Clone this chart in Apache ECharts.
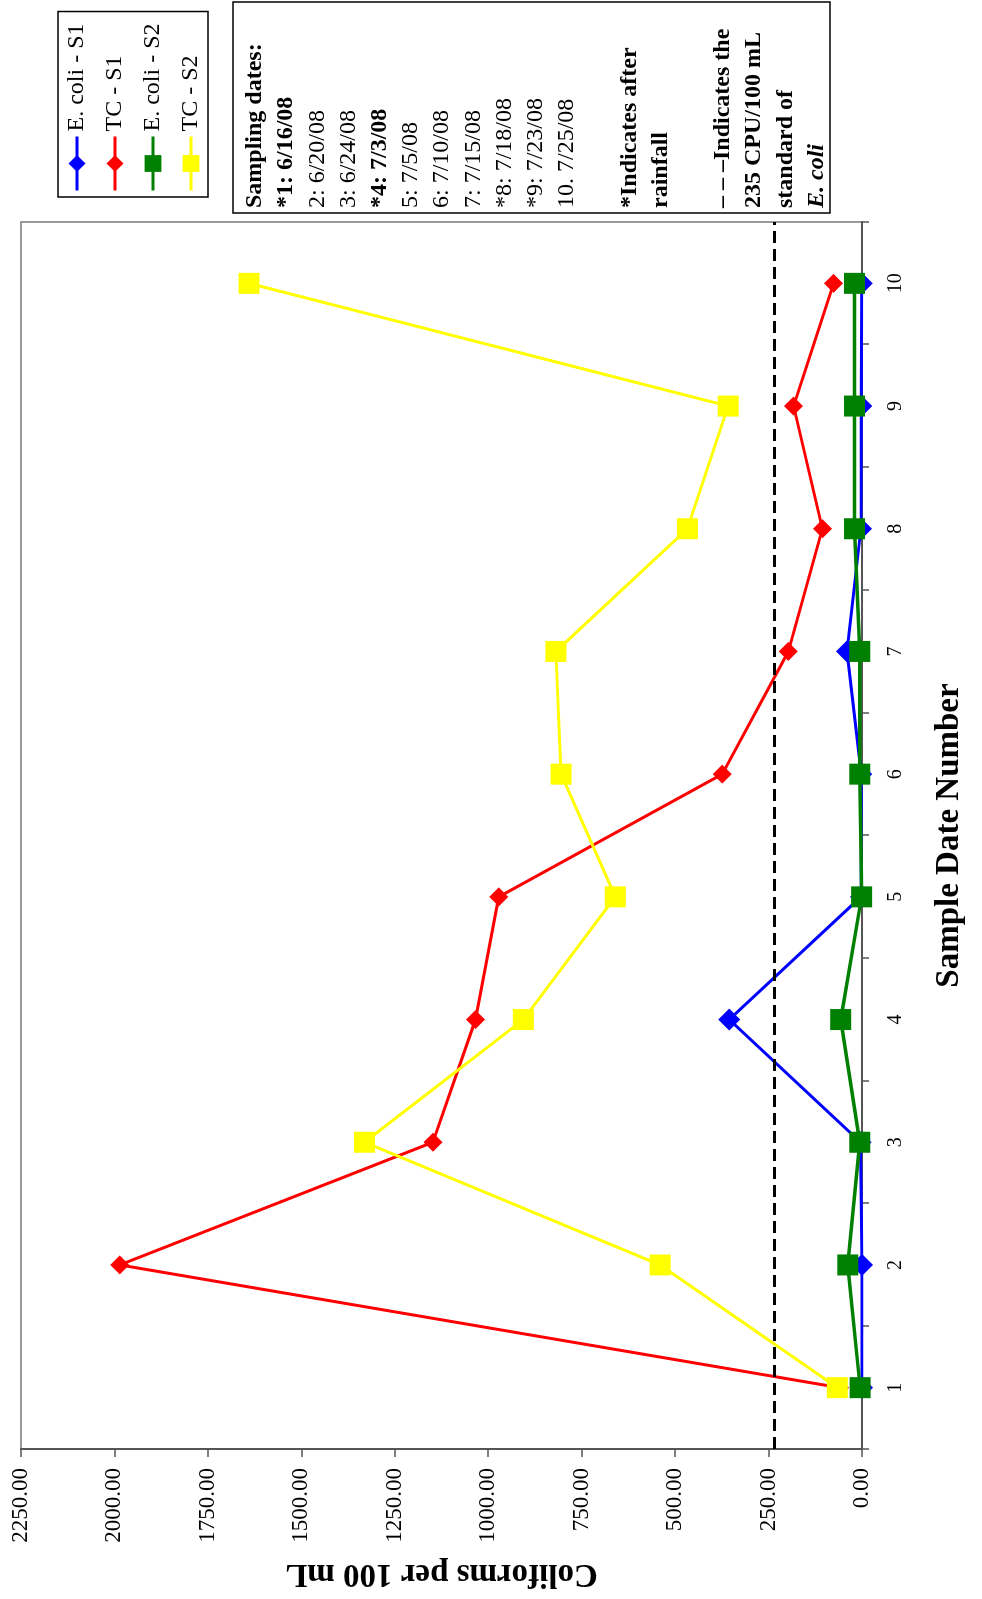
<!DOCTYPE html>
<html>
<head>
<meta charset="utf-8">
<script src="https://cdn.jsdelivr.net/npm/echarts@6/dist/echarts.min.js"></script>
<style>
  html, body { margin: 0; padding: 0; background: #fff; overflow: hidden; width: 982px; height: 1599px; }
  /* The chart is laid out landscape and turned a quarter-turn to stand on the page */
  #chart {
    position: absolute; left: 0; top: 0;
    width: 1599px; height: 982px;
    transform-origin: 0 0;
    transform: translate(0, 1599px) rotate(-90deg);
  }
</style>
</head>
<body>
<div id="chart"></div>
<script>
// Sample date numbers along the category axis
const categories = ['1', '2', '3', '4', '5', '6', '7', '8', '9', '10'];

// Coliforms per 100 mL at each sampling date
const ecoliS1 = [0, 0, 4, 355, 3, 2, 40, 3, 2, 1];
const tcS1    = [60, 1986, 1148, 1034, 972, 374, 197, 106, 183, 76];
const ecoliS2 = [5, 38, 6, 57, 1, 6, 6, 20, 20, 20];
const tcS2    = [66, 540, 1331, 906, 660, 805, 819, 467, 358, 1640];

// Value axis range and step
const valueMin = 0;
const valueMax = 2250;
const valueStep = 250;

// E. coli standard (CPU/100 mL)
const ecoliStandard = 235;

// Sampling-date key: [text, bold]
const dateLines = [
  ['*1: 6/16/08', true],
  ['2: 6/20/08', false],
  ['3: 6/24/08', false],
  ['*4: 7/3/08', true],
  ['5: 7/5/08', false],
  ['6: 7/10/08', false],
  ['7: 7/15/08', false],
  ['*8: 7/18/08', false],
  ['*9: 7/23/08', false],
  ['10. 7/25/08', false]
];

const serif = 'Liberation Serif, Times New Roman, serif';

// Build the note box lines
const noteLines = [];
noteLines.push({ text: 'Sampling dates:', weight: 'bold', style: 'normal' });
dateLines.forEach(function (d) {
  noteLines.push({ text: d[0], weight: d[1] ? 'bold' : 'normal', style: 'normal' });
});
noteLines.push(null);
noteLines.push({ text: '*Indicates after', weight: 'bold', style: 'normal' });
noteLines.push({ text: 'rainfall', weight: 'bold', style: 'normal' });
noteLines.push(null);
noteLines.push({ text: '\u2013 \u2013 \u2013Indicates the', weight: 'bold', style: 'normal' });
noteLines.push({ text: ecoliStandard + ' CPU/100 mL', weight: 'bold', style: 'normal' });
noteLines.push({ text: 'standard of', weight: 'bold', style: 'normal' });
noteLines.push({ text: 'E. coli', weight: 'bold', style: 'italic' });

const noteBox = { x: 1386, y: 233, width: 211, height: 597 };
const noteLineHeight = 31.2;
const noteElements = [{
  type: 'rect',
  shape: { x: noteBox.x, y: noteBox.y, width: noteBox.width, height: noteBox.height },
  style: { fill: '#fff', stroke: '#000', lineWidth: 1.5 },
  z: 10
}];
noteLines.forEach(function (ln, i) {
  if (!ln) return;
  noteElements.push({
    type: 'text',
    x: noteBox.x + 5,
    y: noteBox.y + 22 + i * noteLineHeight,
    z: 11,
    style: {
      text: ln.text,
      fontFamily: serif,
      fontSize: 24,
      fontWeight: ln.weight,
      fontStyle: ln.style,
      fill: '#000',
      align: 'left',
      verticalAlign: 'middle'
    }
  });
});

const chart = echarts.init(document.getElementById('chart'));

function lineSeries(name, data, color, symbol, size, width) {
  return {
    name: name,
    type: 'line',
    data: data,
    symbol: symbol,
    symbolSize: size,
    showAllSymbol: true,
    itemStyle: { color: color, borderWidth: 0 },
    lineStyle: { color: color, width: width },
    emphasis: { disabled: true }
  };
}

const series = [
  lineSeries('E. coli - S1', ecoliS1, '#0000ff', 'diamond', 22, 3),
  lineSeries('TC - S1', tcS1, '#ff0000', 'diamond', 19, 3),
  lineSeries('E. coli - S2', ecoliS2, '#008000', 'rect', 21, 3.5),
  lineSeries('TC - S2', tcS2, '#ffff00', 'rect', 21, 3)
];
// Dashed reference line for the E. coli standard
series[0].markLine = {
  silent: true,
  symbol: 'none',
  label: { show: false },
  lineStyle: { color: '#000', width: 3, type: [12, 6] },
  data: [{ yAxis: ecoliStandard }]
};

chart.setOption({
  animation: false,
  backgroundColor: '#fff',
  grid: {
    left: 150, right: 222, top: 21, bottom: 120,
    show: true, borderColor: '#999', borderWidth: 2, backgroundColor: '#fff'
  },
  legend: {
    orient: 'vertical',
    left: 1402, top: 58,
    itemWidth: 54, itemHeight: 21, itemGap: 14,
    padding: [7, 12, 5, 5],
    borderColor: '#000', borderWidth: 1.5,
    backgroundColor: '#fff',
    selectedMode: false,
    lineStyle: { width: 3 },
    textStyle: { fontFamily: serif, fontSize: 24, color: '#000', lineHeight: 24 },
    data: ['E. coli - S1', 'TC - S1', 'E. coli - S2', 'TC - S2']
  },
  xAxis: {
    type: 'category',
    data: categories,
    boundaryGap: true,
    name: 'Sample Date Number',
    nameLocation: 'middle',
    nameGap: 71,
    nameMoveOverlap: false,
    nameTextStyle: { fontFamily: serif, fontSize: 33, fontWeight: 'bold', color: '#000' },
    axisLine: { show: true, lineStyle: { color: '#555', width: 2 } },
    axisTick: { show: true, length: 7, lineStyle: { color: '#555', width: 1.5 } },
    axisLabel: { margin: 24, fontFamily: serif, fontSize: 20, color: '#000' },
    splitLine: { show: false }
  },
  yAxis: {
    type: 'value',
    min: valueMin, max: valueMax, interval: valueStep,
    name: 'Coliforms per 100 mL',
    nameLocation: 'middle',
    nameGap: 108,
    nameMoveOverlap: false,
    nameTextStyle: { fontFamily: serif, fontSize: 33, fontWeight: 'bold', color: '#000' },
    axisLine: { show: true, lineStyle: { color: '#555', width: 2 } },
    axisTick: { show: true, length: 8, lineStyle: { color: '#555', width: 1.5 } },
    axisLabel: {
      margin: 19, fontFamily: serif, fontSize: 23, color: '#000',
      formatter: function (v) { return v.toFixed(2); }
    },
    splitLine: { show: false }
  },
  graphic: noteElements,
  series: series
});
</script>
</body>
</html>
